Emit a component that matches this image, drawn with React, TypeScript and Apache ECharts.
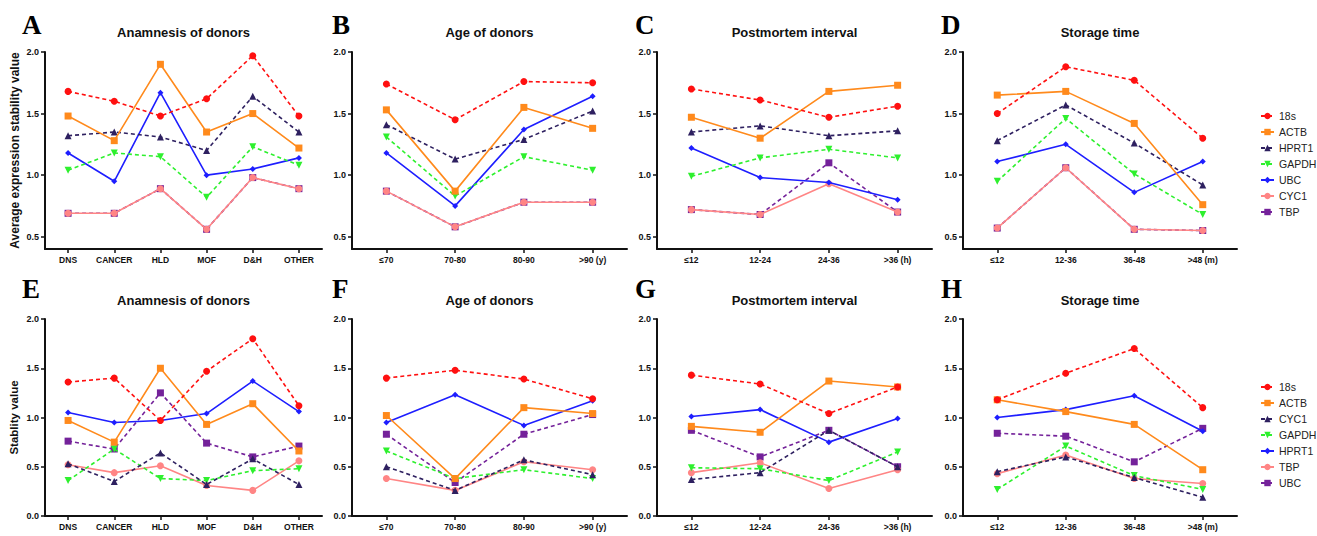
import React, { useEffect, useRef } from "react";
import * as echarts from "echarts";

// ---------- categories ----------
const anamnesisCats = ["DNS", "CANCER", "HLD", "MOF", "D&H", "OTHER"];
const ageCats = ["≤70", "70-80", "80-90", ">90 (y)"];
const pmiCats = ["≤12", "12-24", "24-36", ">36 (h)"];
const storageCats = ["≤12", "12-36", "36-48", ">48 (m)"];

const panelTitles = ["Anamnesis of donors", "Age of donors", "Postmortem interval", "Storage time"];
const topLetters = ["A", "B", "C", "D"];
const bottomLetters = ["E", "F", "G", "H"];

const genesTop = ["18s", "ACTB", "HPRT1", "GAPDH", "UBC", "CYC1", "TBP"];
const genesBottom = ["18s", "ACTB", "CYC1", "GAPDH", "HPRT1", "TBP", "UBC"];

const topYTicks = [0.5, 1.0, 1.5, 2.0];

// ---------- values: top row (average expression stability) ----------
const panelA: Record<string, number[]> = {
  "18s": [1.68, 1.6, 1.48, 1.62, 1.97, 1.48],
  ACTB: [1.48, 1.28, 1.9, 1.35, 1.5, 1.22],
  HPRT1: [1.32, 1.35, 1.31, 1.2, 1.64, 1.35],
  GAPDH: [1.04, 1.18, 1.15, 0.82, 1.23, 1.08],
  UBC: [1.18, 0.95, 1.67, 1.0, 1.05, 1.14],
  CYC1: [0.69, 0.69, 0.89, 0.56, 0.98, 0.89],
  TBP: [0.69, 0.69, 0.89, 0.56, 0.98, 0.89],
};
const panelB: Record<string, number[]> = {
  "18s": [1.74, 1.45, 1.76, 1.75],
  ACTB: [1.53, 0.87, 1.55, 1.38],
  HPRT1: [1.41, 1.13, 1.29, 1.52],
  GAPDH: [1.31, 0.83, 1.15, 1.04],
  UBC: [1.18, 0.75, 1.37, 1.64],
  CYC1: [0.87, 0.58, 0.78, 0.78],
  TBP: [0.87, 0.58, 0.78, 0.78],
};
const panelC: Record<string, number[]> = {
  "18s": [1.7, 1.61, 1.47, 1.56],
  ACTB: [1.47, 1.3, 1.68, 1.73],
  HPRT1: [1.35, 1.4, 1.32, 1.36],
  GAPDH: [0.99, 1.14, 1.21, 1.14],
  UBC: [1.22, 0.98, 0.94, 0.8],
  CYC1: [0.72, 0.68, 0.93, 0.7],
  TBP: [0.72, 0.68, 1.1, 0.7],
};
const panelD: Record<string, number[]> = {
  "18s": [1.5, 1.88, 1.77, 1.3],
  ACTB: [1.65, 1.68, 1.42, 0.76],
  HPRT1: [1.28, 1.57, 1.26, 0.92],
  GAPDH: [0.95, 1.46, 1.01, 0.68],
  UBC: [1.11, 1.25, 0.86, 1.11],
  CYC1: [0.57, 1.06, 0.56, 0.55],
  TBP: [0.57, 1.06, 0.56, 0.55],
};

// ---------- values: bottom row (stability value) ----------
const panelE: Record<string, number[]> = {
  "18s": [1.36, 1.4, 0.97, 1.47, 1.8, 1.12],
  ACTB: [0.97, 0.75, 1.5, 0.93, 1.14, 0.66],
  CYC1: [0.53, 0.35, 0.64, 0.32, 0.58, 0.32],
  GAPDH: [0.36, 0.68, 0.38, 0.36, 0.46, 0.48],
  HPRT1: [1.05, 0.95, 0.97, 1.04, 1.37, 1.06],
  TBP: [0.52, 0.44, 0.51, 0.31, 0.26, 0.56],
  UBC: [0.76, 0.68, 1.25, 0.74, 0.6, 0.71],
};
const panelF: Record<string, number[]> = {
  "18s": [1.4, 1.48, 1.39, 1.19],
  ACTB: [1.02, 0.38, 1.1, 1.04],
  CYC1: [0.5, 0.26, 0.57, 0.42],
  GAPDH: [0.66, 0.38, 0.47, 0.38],
  HPRT1: [0.95, 1.23, 0.92, 1.17],
  TBP: [0.38, 0.26, 0.55, 0.47],
  UBC: [0.83, 0.34, 0.83, 1.03],
};
const panelG: Record<string, number[]> = {
  "18s": [1.43, 1.34, 1.04, 1.31],
  ACTB: [0.91, 0.85, 1.37, 1.31],
  CYC1: [0.37, 0.44, 0.87, 0.5],
  GAPDH: [0.49, 0.48, 0.36, 0.65],
  HPRT1: [1.01, 1.08, 0.75, 0.99],
  TBP: [0.44, 0.54, 0.28, 0.47],
  UBC: [0.87, 0.6, 0.87, 0.5],
};
const panelH: Record<string, number[]> = {
  "18s": [1.18, 1.45, 1.7, 1.1],
  ACTB: [1.18, 1.06, 0.93, 0.47],
  CYC1: [0.45, 0.6, 0.39, 0.19],
  GAPDH: [0.27, 0.71, 0.41, 0.27],
  HPRT1: [1.0, 1.08, 1.22, 0.86],
  TBP: [0.43, 0.62, 0.38, 0.33],
  UBC: [0.84, 0.81, 0.55, 0.89],
};

// ---------- styles ----------
const RED = "#ff1010";
const ORANGE = "#ff8a1c";
const DARK = "#2e2060";
const GREEN = "#2ef02e";
const BLUE = "#1e1eff";
const PINK = "#ff8585";
const PURPLE = "#74229a";

type Sty = { color: string; dashed: boolean; symbol: string; size: number; rotate?: number; z: number };
const topStyle: Record<string, Sty> = {
  "18s": { color: RED, dashed: true, symbol: "circle", size: 7, z: 7 },
  ACTB: { color: ORANGE, dashed: false, symbol: "rect", size: 7, z: 6 },
  HPRT1: { color: DARK, dashed: true, symbol: "triangle", size: 7, z: 5 },
  GAPDH: { color: GREEN, dashed: true, symbol: "triangle", size: 7, rotate: 180, z: 4 },
  UBC: { color: BLUE, dashed: false, symbol: "diamond", size: 6, z: 3 },
  CYC1: { color: PINK, dashed: false, symbol: "circle", size: 7, z: 2 },
  TBP: { color: PURPLE, dashed: true, symbol: "rect", size: 7, z: 1 },
};
const bottomStyle: Record<string, Sty> = {
  "18s": { color: RED, dashed: true, symbol: "circle", size: 7, z: 7 },
  ACTB: { color: ORANGE, dashed: false, symbol: "rect", size: 7, z: 6 },
  CYC1: { color: DARK, dashed: true, symbol: "triangle", size: 7, z: 5 },
  GAPDH: { color: GREEN, dashed: true, symbol: "triangle", size: 7, rotate: 180, z: 4 },
  HPRT1: { color: BLUE, dashed: false, symbol: "diamond", size: 6, z: 3 },
  TBP: { color: PINK, dashed: false, symbol: "circle", size: 7, z: 2 },
  UBC: { color: PURPLE, dashed: true, symbol: "rect", size: 7, z: 1 },
};

const FONT = "Liberation Sans, Arial, sans-serif";
const SERIF = "Liberation Serif, Times New Roman, serif";

const gridLefts = [45, 352, 657, 963];
const gridWidths = [277, 275, 275, 274];
const rowTops = [52, 319];
const gridH = 197;
const BOTTOM_SUFFIX = " ";

export default function App() {
  const ref = useRef<HTMLDivElement>(null);
  useEffect(() => {
    if (!ref.current) return;
    const chart = echarts.init(ref.current, undefined, { renderer: "svg" });

    const catsList = [anamnesisCats, ageCats, pmiCats, storageCats];
    const topPanels = [panelA, panelB, panelC, panelD];
    const bottomPanels = [panelE, panelF, panelG, panelH];

    const grid: any[] = [];
    const xAxis: any[] = [];
    const yAxis: any[] = [];
    const series: any[] = [];
    const graphic: any[] = [];

    for (let row = 0; row < 2; row++) {
      for (let c = 0; c < 4; c++) {
        const idx = row * 4 + c;
        grid.push({ left: gridLefts[c], top: rowTops[row], width: gridWidths[c], height: gridH, containLabel: false });
        xAxis.push({
          type: "category",
          gridIndex: idx,
          data: catsList[c],
          boundaryGap: true,
          axisLine: { show: true, lineStyle: { color: "#111", width: 2 } },
          axisTick: { show: true, alignWithLabel: true, length: 4, lineStyle: { color: "#111", width: 1.5 } },
          axisLabel: { color: "#111", fontFamily: FONT, fontWeight: "bold", fontSize: 8.5, margin: 6, interval: 0 },
          splitLine: { show: false },
        });
        yAxis.push({
          type: "value",
          gridIndex: idx,
          min: row === 0 ? 0.4 : 0,
          max: 2.0,
          ...(row === 1 ? { interval: 0.5 } : {}),
          name: c === 0 ? (row === 0 ? "Average expression stability value" : "Stablity value") : "",
          nameLocation: "middle",
          nameRotate: 90,
          nameGap: row === 0 ? 24 : 25,
          nameTextStyle: { fontFamily: FONT, fontWeight: "bold", fontSize: row === 0 ? 12 : 11.5, color: "#111" },
          axisLine: { show: true, lineStyle: { color: "#111", width: 2 } },
          axisTick: { show: true, length: 4, lineStyle: { color: "#111", width: 1.5 }, ...(row === 0 ? { customValues: topYTicks } : {}) },
          axisLabel: {
            color: "#111",
            fontFamily: FONT,
            fontWeight: "bold",
            fontSize: 9,
            margin: 6,
            formatter: (v: number) => v.toFixed(1),
            ...(row === 0 ? { customValues: topYTicks } : {}),
          },
          splitLine: { show: false },
        });

        const genes = row === 0 ? genesTop : genesBottom;
        const styles = row === 0 ? topStyle : bottomStyle;
        const panel = row === 0 ? topPanels[c] : bottomPanels[c];
        genes.forEach((g) => {
          const s = styles[g];
          series.push({
            type: "line",
            name: row === 0 ? g : g + BOTTOM_SUFFIX,
            xAxisIndex: idx,
            yAxisIndex: idx,
            data: panel[g],
            symbol: s.symbol,
            symbolSize: s.size,
            symbolRotate: s.rotate || 0,
            z: 2 + s.z * 0.1,
            lineStyle: { color: s.color, width: 1.6, type: s.dashed ? [4, 3] : "solid" },
            itemStyle: { color: s.color },
            emphasis: { disabled: true },
          });
        });

        graphic.push({
          type: "text",
          x: gridLefts[c] + gridWidths[c] / 2,
          y: row === 0 ? 32 : 300,
          style: {
            text: panelTitles[c],
            fontFamily: FONT,
            fontWeight: "bold",
            fontSize: 13,
            fill: "#111",
            textAlign: "center",
            textVerticalAlign: "middle",
          },
        });
      }
    }

    const letterX = [22, 332, 635, 941];
    for (let c = 0; c < 4; c++) {
      graphic.push({
        type: "text",
        x: letterX[c],
        y: 25,
        style: { text: topLetters[c], fontFamily: SERIF, fontWeight: "bold", fontSize: 27, fill: "#000", textAlign: "left", textVerticalAlign: "middle" },
      });
      graphic.push({
        type: "text",
        x: letterX[c],
        y: 289,
        style: { text: bottomLetters[c], fontFamily: SERIF, fontWeight: "bold", fontSize: 27, fill: "#000", textAlign: "left", textVerticalAlign: "middle" },
      });
    }

    const legendBase = {
      orient: "vertical",
      left: 1255,
      itemWidth: 13,
      itemHeight: 8,
      itemGap: 4,
      selectedMode: false,
      textStyle: { fontFamily: FONT, fontSize: 10.5, color: "#222", lineHeight: 12 },
    };

    chart.setOption({
      animation: false,
      backgroundColor: "#fff",
      grid,
      xAxis,
      yAxis,
      series,
      graphic,
      legend: [
        { ...legendBase, top: 105, data: genesTop },
        { ...legendBase, top: 376, data: genesBottom.map((g) => g + BOTTOM_SUFFIX), formatter: (n: string) => n.trim() },
      ],
    });

    return () => chart.dispose();
  }, []);

  return <div ref={ref} style={{ position: "fixed", left: 0, top: 0, width: 1317, height: 536 }} />;
}
